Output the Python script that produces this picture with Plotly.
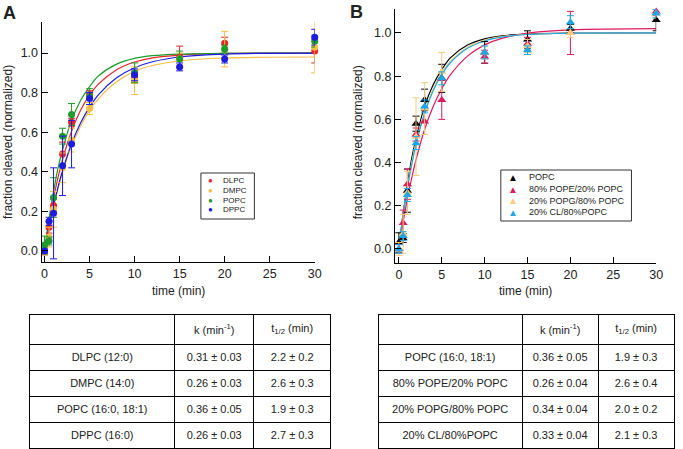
import plotly.graph_objects as go

W, H = 683, 449
FONT = "Arial, Liberation Sans, sans-serif"

# measured time points (min)
t = [0, 0.5, 1, 2, 3, 5, 10, 15, 20, 30]

# panel A: fraction cleaved (normalized)
dlpc = [0.0, 0.12, 0.23, 0.49, 0.65, 0.79, 0.88, 0.98, 1.05, 1.01]
dlpc_err = [0.02, 0.03, 0.03, 0.06, 0.02, 0.02, 0.03, 0.055, 0.03, 0.06]
dmpc = [0.0, 0.07, 0.21, 0.42, 0.56, 0.72, 0.86, 0.97, 1.02, 1.03]
dmpc_err = [0.02, 0.05, 0.09, 0.075, 0.06, 0.03, 0.07, 0.03, 0.09, 0.13]
popc = [0.03, 0.05, 0.27, 0.58, 0.69, 0.78, 0.90, 0.97, 1.02, 1.06]
popc_err = [0.045, 0.02, 0.10, 0.04, 0.055, 0.04, 0.05, 0.04, 0.02, 0.03]
dppc = [0.0, 0.15, 0.19, 0.43, 0.54, 0.77, 0.89, 0.93, 0.97, 1.08]
dppc_err = [0.01, 0.02, 0.23, 0.15, 0.12, 0.03, 0.03, 0.02, 0.02, 0.04]

# panel B
popc_b = [0.03, 0.05, 0.27, 0.58, 0.69, 0.79, 0.91, 0.97, 1.02, 1.06]
popc_b_err = [0.045, 0.02, 0.10, 0.035, 0.05, 0.065, 0.05, 0.04, 0.02, 0.05]
pope = [0.0, 0.12, 0.30, 0.53, 0.59, 0.69, 0.89, 0.95, 1.00, 1.10]
pope_err = [0.02, 0.06, 0.07, 0.03, 0.06, 0.09, 0.03, 0.03, 0.10, 0.02]
popg = [0.0, 0.07, 0.26, 0.52, 0.65, 0.82, 0.91, 0.94, 1.00, 1.09]
popg_err = [0.03, 0.09, 0.10, 0.18, 0.12, 0.09, 0.03, 0.03, 0.02, 0.02]
cl = [0.0, 0.06, 0.25, 0.49, 0.66, 0.79, 0.91, 0.92, 1.05, 1.09]
cl_err = [0.02, 0.02, 0.03, 0.03, 0.03, 0.03, 0.03, 0.02, 0.03, 0.02]

# fitted curves
t_fit = [0, 0.5, 1, 1.5, 2, 3, 4, 5, 6, 8, 10, 12, 15, 20, 30]
fit_popc = [0, 0.165, 0.30, 0.42, 0.51, 0.66, 0.76, 0.83, 0.885, 0.944, 0.973, 0.987, 0.995, 0.999, 1.0]
fit_dlpc = [0, 0.144, 0.267, 0.372, 0.462, 0.605, 0.711, 0.788, 0.844, 0.916, 0.955, 0.976, 0.99, 0.998, 1.0]
fit_dmpc = [0, 0.12, 0.225, 0.315, 0.397, 0.53, 0.63, 0.71, 0.77, 0.855, 0.908, 0.937, 0.96, 0.975, 0.98]
fit_dppc = [0, 0.122, 0.229, 0.323, 0.405, 0.542, 0.647, 0.727, 0.79, 0.875, 0.926, 0.956, 0.98, 0.995, 1.0]
fit_pope = [0, 0.124, 0.234, 0.329, 0.413, 0.553, 0.66, 0.742, 0.806, 0.893, 0.945, 0.975, 0.999, 1.014, 1.02]
fit_popg = [0, 0.156, 0.288, 0.40, 0.493, 0.639, 0.743, 0.817, 0.87, 0.934, 0.967, 0.983, 0.994, 0.999, 1.0]
fit_cl = [0, 0.152, 0.281, 0.39, 0.483, 0.628, 0.733, 0.808, 0.862, 0.929, 0.963, 0.981, 0.993, 0.999, 1.0]

# tables
lipids_a = ["DLPC (12:0)", "DMPC (14:0)", "POPC (16:0, 18:1)", "DPPC (16:0)"]
k_a = ["0.31 ± 0.03", "0.26 ± 0.03", "0.36 ± 0.05", "0.26 ± 0.03"]
thalf_a = ["2.2 ± 0.2", "2.6 ± 0.3", "1.9 ± 0.3", "2.7 ± 0.3"]
lipids_b = ["POPC (16:0, 18:1)", "80% POPE/20% POPC", "20% POPG/80% POPC", "20% CL/80%POPC"]
k_b = ["0.36 ± 0.05", "0.26 ± 0.04", "0.34 ± 0.04", "0.33 ± 0.04"]
thalf_b = ["1.9 ± 0.3", "2.6 ± 0.4", "2.0 ± 0.2", "2.1 ± 0.3"]
header = [" ", "k (min<sup>-1</sup>)", "t<sub>1/2</sub> (min)"]

series_a = [
    ("DLPC", dlpc, dlpc_err, fit_dlpc, "#e4262b"),
    ("DMPC", dmpc, dmpc_err, fit_dmpc, "#f7bd45"),
    ("POPC", popc, popc_err, fit_popc, "#1f9a2c"),
    ("DPPC", dppc, dppc_err, fit_dppc, "#1c1ce0"),
]
series_b = [
    ("POPC", popc_b, popc_b_err, fit_popc, "#000000"),
    ("80% POPE/20% POPC", pope, pope_err, fit_pope, "#dc1a5c"),
    ("20% POPG/80% POPC", popg, popg_err, fit_popg, "#f8cb80"),
    ("20% CL/80%POPC", cl, cl_err, fit_cl, "#1ea6e4"),
]


def px(x):
    return x / W


def py(y):
    return 1 - y / H


fig = go.Figure()

for xa, ya, series, symbol, msize in [("x", "y", series_a, "circle", 7),
                                       ("x2", "y2", series_b, "triangle-up", 8)]:
    # curves first, then points on top
    for name, vals, err, fit, color in series:
        fig.add_trace(go.Scatter(x=t_fit, y=fit, mode="lines", line=dict(color=color, width=1.2, shape="spline"),
                                 xaxis=xa, yaxis=ya, showlegend=False, hoverinfo="skip"))
    for name, vals, err, fit, color in series:
        fig.add_trace(go.Scatter(x=t, y=vals, mode="markers", name=name,
                                 marker=dict(color=color, size=msize, symbol=symbol),
                                 error_y=dict(type="data", array=err, color=color, thickness=1, width=3.5),
                                 xaxis=xa, yaxis=ya, showlegend=False, cliponaxis=False))

axis_common = dict(showline=True, linecolor="black", linewidth=1, ticks="inside", ticklen=6,
                   tickcolor="black", showgrid=False, zeroline=False,
                   tickfont=dict(size=12.5, color="#222", family=FONT))

fig.update_layout(
    xaxis=dict(domain=[px(42), px(318)], range=[-0.33, 30], dtick=5, anchor="y", **axis_common),
    yaxis=dict(domain=[py(262), py(22)], range=[-0.056, 1.157], dtick=0.2, tick0=0,
               tickformat=".1f", anchor="x", **axis_common),
    xaxis2=dict(domain=[px(399), px(663)], range=[-0.46, 30], dtick=5, anchor="y2", **axis_common),
    yaxis2=dict(domain=[py(263), py(9)], range=[-0.065, 1.111], dtick=0.2, tick0=0,
                tickformat=".1f", anchor="x2", **axis_common),
)

# tables
cell_font = dict(family=FONT, size=11, color="#222")
for xs, names, ks, ths, widths in [((30, 335), lipids_a, k_a, thalf_a, [147, 80, 78]),
                                    ((382, 682), lipids_b, k_b, thalf_b, [146, 77, 77])]:
    fig.add_trace(go.Table(
        domain=dict(x=[px(xs[0]), px(xs[1])], y=[0, py(314)]),
        columnwidth=widths,
        header=dict(values=header, height=28, align="center", fill_color="white",
                    line=dict(color="black", width=1), font=cell_font),
        cells=dict(values=[names, ks, ths], height=26, align="center", fill_color="white",
                   line=dict(color="black", width=1), font=cell_font),
    ))

annotations = [
    dict(text="<b>A</b>", x=px(1), y=py(1), xanchor="left", yanchor="top", font=dict(size=18)),
    dict(text="<b>B</b>", x=px(352), y=py(0), xanchor="left", yanchor="top", font=dict(size=18)),
]
for cx in [(42 + 318) / 2, (399 + 663) / 2]:
    annotations.append(dict(text="time (min)", x=px(cx), y=py(291), xanchor="center", yanchor="middle",
                            font=dict(size=12, color="#222")))
for cx in [8, 362]:
    annotations.append(dict(text="fraction cleaved (normalized)", x=px(cx), y=py(142), textangle=-90,
                            xanchor="center", yanchor="middle", font=dict(size=12, color="#222")))

# hand-drawn legends
shapes = [
    dict(type="rect", xref="paper", yref="paper", x0=px(203), x1=px(257), y0=py(219), y1=py(173),
         line=dict(color="#333", width=1), fillcolor="white", layer="below"),
    dict(type="rect", xref="paper", yref="paper", x0=px(506), x1=px(638), y0=py(221), y1=py(170),
         line=dict(color="#333", width=1), fillcolor="white", layer="below"),
]
for series, ys, mx, tx, glyph, gsize, fsize in [(series_a, [180.7, 190.3, 200.0, 209.7], 213, 224, "●", 8, 8),
                                                (series_b, [177.3, 189, 200.7, 212.3], 518, 533, "▲", 10, 9)]:
    for (name, _, _, _, color), yy in zip(series, ys):
        annotations.append(dict(text=glyph, x=px(mx), y=py(yy), xanchor="center", yanchor="middle",
                                font=dict(size=gsize, color=color), borderpad=0))
        annotations.append(dict(text=name, x=px(tx), y=py(yy), xanchor="left", yanchor="middle",
                                font=dict(size=fsize, color="#222"), borderpad=0))

for a in annotations:
    a.setdefault("xref", "paper")
    a.setdefault("yref", "paper")
    a["showarrow"] = False

fig.update_layout(
    width=W, height=H,
    margin=dict(l=0, r=0, t=0, b=0),
    paper_bgcolor="white", plot_bgcolor="white",
    font=dict(family=FONT, color="#222"),
    showlegend=False,
    annotations=annotations,
    shapes=shapes,
)

fig.write_html("out.html", config={"displayModeBar": False},
               post_script="document.body.style.margin='0';")
